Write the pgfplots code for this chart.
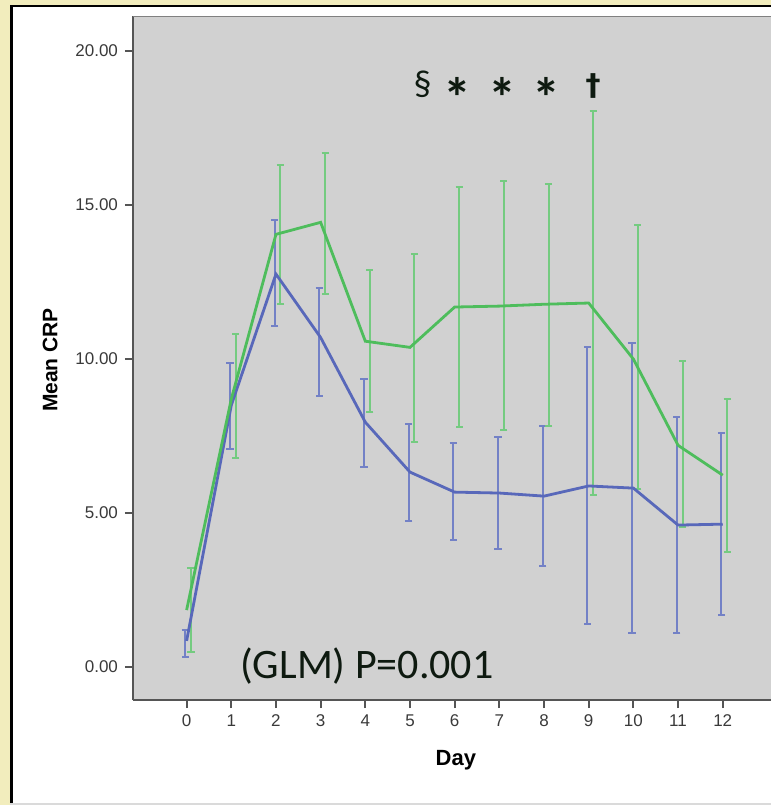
\documentclass[border=0pt]{standalone}
\usepackage{fontspec}
\setmainfont{Liberation Sans}
\newfontfamily\carlito{Carlito}
\newfontfamily\dejavu{DejaVu Sans}
\usepackage{pgfplots}
\usepackage{pgfplotstable}
\pgfplotsset{compat=1.18}

\definecolor{cream}{HTML}{F2EDBD}
\definecolor{framegray}{HTML}{DADADA}
\definecolor{plotbg}{HTML}{D1D1D1}
\definecolor{axisgray}{HTML}{555555}
\definecolor{ticktext}{HTML}{3A3A3A}
\definecolor{blueline}{HTML}{5868BA}
\definecolor{bluebar}{HTML}{7381C6}
\definecolor{greenline}{HTML}{4EBD5C}
\definecolor{greenbar}{HTML}{74CB80}
\definecolor{annot}{HTML}{0E1A10}

% day, mean, lower and upper end of error bar
\pgfplotstableread{
day mean lo hi
0  0.85 0.33 1.20
1  8.50 7.08 9.87
2  12.76 11.07 14.50
3  10.70 8.80 12.30
4  7.95 6.49 9.35
5  6.33 4.75 7.90
6  5.68 4.12 7.27
7  5.65 3.83 7.47
8  5.55 3.28 7.82
9  5.88 1.40 10.39
10 5.81 1.10 10.52
11 4.61 1.10 8.12
12 4.64 1.69 7.60
}\bluetab

\pgfplotstableread{
day mean lo hi
0  1.85 0.49 3.20
1  8.70 6.80 10.80
2  14.05 11.80 16.30
3  14.44 12.10 16.70
4  10.58 8.27 12.90
5  10.38 7.30 13.40
6  11.69 7.79 15.58
7  11.72 7.69 15.78
8  11.78 7.82 15.70
9  11.82 5.60 18.05
10 10.00 5.77 14.35
11 7.20 4.55 9.93
12 6.23 3.73 8.70
}\greentab

\begin{document}
\begin{tikzpicture}
\useasboundingbox (0pt,0pt) rectangle (385.5pt,402.5pt);
% frame around the panel
\fill[cream] (0pt,0pt) rectangle (385.5pt,402.5pt);
\fill[framegray] (5pt,0pt) rectangle (385.5pt,400pt);
\fill[white] (6.5pt,1pt) rectangle (385.5pt,399pt);
\fill[black] (5pt,1pt) rectangle (6.5pt,400pt);
\fill[black] (5pt,399pt) rectangle (385.5pt,400pt);

\begin{axis}[
    at={(66.5pt,52.5pt)}, anchor=south west,
    scale only axis, width=319pt, height=342pt,
    xmin=-1.2, xmax=13.08, ymin=-1.07, ymax=21.14,
    axis x line*=bottom, axis y line*=left,
    axis line style={draw=axisgray, line width=1pt},
    axis background/.style={fill=plotbg},
    xtick={0,...,12}, ytick={0,5,10,15,20},
    tick align=outside, major tick length=4pt,
    tick style={draw=axisgray, line width=1pt},
    tick label style={font=\fontsize{8.5}{10}\selectfont, text=ticktext},
    /pgf/number format/assume math mode=true,
    yticklabel style={/pgf/number format/.cd, fixed, fixed zerofill, precision=2},
    xlabel={Day}, ylabel={Mean CRP},
    xlabel style={at={(axis description cs:0.506,-0.088)}, anchor=center,
        font=\bfseries\fontsize{11}{13}\selectfont},
    ylabel style={at={(axis description cs:-0.130,0.497)}, anchor=center,
        font=\bfseries\fontsize{10.5}{13}\selectfont},
]
% error bars, drawn a little beside each day
\addplot[draw=none, forget plot,
    error bars/.cd, y dir=both, y explicit,
    error bar style={draw=bluebar, line width=1pt},
    error mark options={draw=bluebar, line width=1pt, mark size=1.8pt, rotate=90}]
    table[x expr=\thisrow{day}-0.03, y expr=(\thisrow{lo}+\thisrow{hi})/2,
          y error expr=(\thisrow{hi}-\thisrow{lo})/2] {\bluetab};
\addplot[draw=none, forget plot,
    error bars/.cd, y dir=both, y explicit,
    error bar style={draw=greenbar, line width=1pt},
    error mark options={draw=greenbar, line width=1pt, mark size=1.8pt, rotate=90}]
    table[x expr=\thisrow{day}+0.1, y expr=(\thisrow{lo}+\thisrow{hi})/2,
          y error expr=(\thisrow{hi}-\thisrow{lo})/2] {\greentab};

\addplot[blueline, line width=1.4pt, mark=none] table[x=day, y=mean] {\bluetab};
\addplot[greenline, line width=1.4pt, mark=none] table[x=day, y=mean] {\greentab};

\draw[gray, line width=0.8pt] (rel axis cs:0,1) -- (rel axis cs:1,1);

\node[font=\carlito\fontsize{21}{25}\selectfont, text=annot, anchor=base west, inner sep=0pt]
    at (axis cs:1.19,-0.36) {(GLM) P=0.001};
\node[font=\carlito\fontsize{18}{21}\selectfont, text=annot, anchor=base, inner sep=0pt]
    at (axis cs:5.28,18.57) {§};
\node[font=\carlito\bfseries\fontsize{28}{32}\selectfont, text=annot, anchor=base, inner sep=0pt]
    at (axis cs:6.06,17.84) {*};
\node[font=\carlito\bfseries\fontsize{28}{32}\selectfont, text=annot, anchor=base, inner sep=0pt]
    at (axis cs:7.07,17.84) {*};
\node[font=\carlito\bfseries\fontsize{28}{32}\selectfont, text=annot, anchor=base, inner sep=0pt]
    at (axis cs:8.05,17.84) {*};
\node[font=\dejavu\bfseries\fontsize{15}{18}\selectfont, text=annot, anchor=base, inner sep=0pt]
    at (axis cs:9.10,18.55) {†};
\end{axis}
\end{tikzpicture}
\end{document}
